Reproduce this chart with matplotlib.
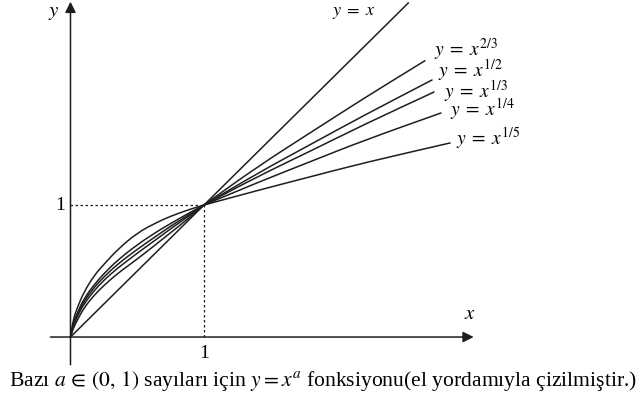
import numpy as np
import matplotlib.pyplot as plt
from matplotlib.path import Path
from matplotlib.patches import PathPatch

plt.rcParams['mathtext.fontset'] = 'stix'
plt.rcParams['font.family'] = ['Liberation Serif', 'DejaVu Serif']

# hand drawn curves, sampled points for each exponent
exponents = ["2/3", "1/2", "1/3", "1/4", "1/5"]

xs_in = [0, 0.02, 0.05, 0.1, 0.18, 0.25, 0.35, 0.5, 0.65, 0.75, 0.88, 1.0]
ys_in = {
    "1/5": [0, 0.13, 0.22, 0.34, 0.47, 0.55, 0.66, 0.79, 0.87, 0.915, 0.963, 1.0],
    "1/4": [0, 0.10, 0.18, 0.29, 0.40, 0.48, 0.58, 0.70, 0.80, 0.86, 0.935, 1.0],
    "1/3": [0, 0.09, 0.17, 0.27, 0.38, 0.455, 0.55, 0.665, 0.77, 0.84, 0.922, 1.0],
    "1/2": [0, 0.08, 0.155, 0.25, 0.355, 0.43, 0.52, 0.635, 0.745, 0.82, 0.912, 1.0],
    "2/3": [0, 0.065, 0.125, 0.22, 0.32, 0.39, 0.48, 0.59, 0.71, 0.79, 0.895, 1.0],
}

xs_out = {
    "2/3": [1.0, 1.4, 1.8, 2.2, 2.655],
    "1/2": [1.0, 1.4, 1.8, 2.2, 2.708],
    "1/3": [1.0, 1.4, 1.8, 2.2, 2.723],
    "1/4": [1.0, 1.4, 1.8, 2.2, 2.775],
    "1/5": [1.0, 1.4, 1.8, 2.2, 2.843],
}
ys_out = {
    "2/3": [1.0, 1.29, 1.55, 1.81, 2.093],
    "1/2": [1.0, 1.24, 1.46, 1.68, 1.947],
    "1/3": [1.0, 1.215, 1.41, 1.61, 1.856],
    "1/4": [1.0, 1.17, 1.33, 1.49, 1.697],
    "1/5": [1.0, 1.11, 1.215, 1.32, 1.47],
}

identity_end = 2.53

# label anchor points (left edge, middle)
label_pos = {
    "2/3": (2.72, 2.175),
    "1/2": (2.75, 2.02),
    "1/3": (2.80, 1.86),
    "1/4": (2.84, 1.73),
    "1/5": (2.89, 1.50),
}


def smooth_path(x, y):
    # quadratic pieces through the midpoints of the sampled polygon
    pts = np.column_stack([x, y])
    mids = (pts[:-1] + pts[1:]) / 2
    verts = [pts[0], mids[0]]
    codes = [Path.MOVETO, Path.LINETO]
    for i in range(1, len(pts) - 1):
        verts += [pts[i], mids[i]]
        codes += [Path.CURVE3, Path.CURVE3]
    verts.append(pts[-1])
    codes.append(Path.LINETO)
    return Path(verts, codes)


fig = plt.figure(figsize=(6.42, 4.0), dpi=100)
ax = fig.add_axes([0, 0, 1, 1])
ax.set_xlim(-0.528, 4.281)
ax.set_ylim(-0.477, 2.553)
ax.axis('off')

ink = '#1e1e1e'

# axes with arrow heads
ax.annotate('', xy=(3.02, 0), xytext=(-0.15, 0),
            arrowprops=dict(arrowstyle='-|>', color=ink, lw=1.1,
                            mutation_scale=16, shrinkA=0, shrinkB=0))
ax.annotate('', xy=(0, 2.54), xytext=(0, -0.21),
            arrowprops=dict(arrowstyle='-|>', color=ink, lw=1.1,
                            mutation_scale=16, shrinkA=0, shrinkB=0))

# dotted guides to (1, 1)
ax.plot([0, 1], [1, 1], color=ink, lw=0.9, linestyle=(0, (2, 2)))
ax.plot([1, 1], [0, 1], color=ink, lw=0.9, linestyle=(0, (2, 2)))

ax.plot([0, identity_end], [0, identity_end], color=ink, lw=1.1)

for e in exponents:
    for p in (smooth_path(xs_in, ys_in[e]), smooth_path(xs_out[e], ys_out[e])):
        ax.add_patch(PathPatch(p, facecolor='none', edgecolor=ink, lw=1.1,
                               capstyle='round', joinstyle='round'))
    lx, ly = label_pos[e]
    ax.text(lx, ly, r'$y\;=\;x^{%s}$' % e, fontsize=14, va='center', ha='left')

ax.text(1.96, 2.46, r'$y\;=\;x$', fontsize=13, va='center', ha='left')

ax.text(-0.124, 2.46, r'$y$', fontsize=15, va='center', ha='center')
ax.text(2.99, 0.17, r'$x$', fontsize=15, va='center', ha='center')
ax.text(-0.08, 1.0, '1', fontsize=14, va='center', ha='center')
ax.text(1.0, -0.125, '1', fontsize=14, va='center', ha='center')

ax.text(1.89, -0.335,
        r'Bazı $a\,\in\,(0,\,1)$ sayıları için $y=x^{a}$ fonksiyonu(el yordamıyla çizilmiştir.)',
        fontsize=15.6, va='center', ha='center')

plt.savefig('out.png', dpi=100)
